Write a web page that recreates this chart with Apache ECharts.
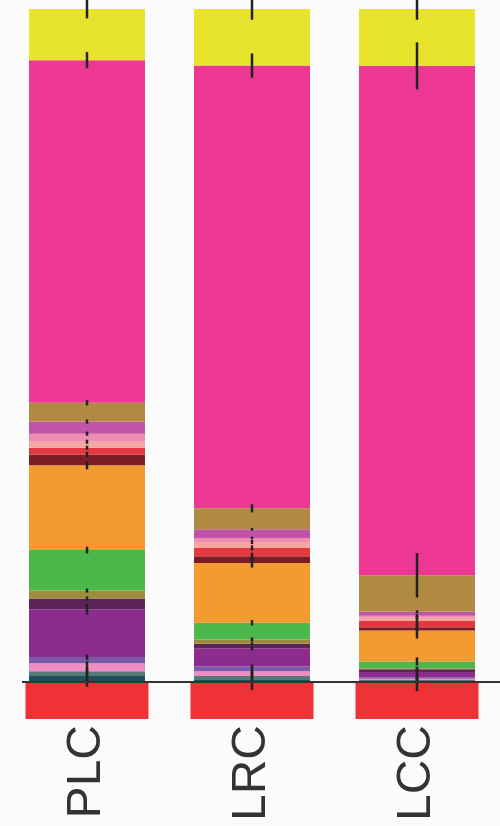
<!DOCTYPE html>
<html>
<head>
<meta charset="utf-8">
<script src="https://cdn.jsdelivr.net/npm/echarts@6/dist/echarts.min.js"></script>
<style>
html,body{margin:0;padding:0;background:#fbfbfb;}
#main{width:500px;height:826px;}
</style>
</head>
<body>
<div id="main"></div>
<script>
// ---- data (segments listed bottom to top, percent of total) ----
const categories = ['PLC', 'LRC', 'LCC'];
const taxa = ['Taxon 1','Taxon 2','Taxon 3','Taxon 4','Taxon 5','Taxon 6','Taxon 7','Taxon 8','Taxon 9',
              'Taxon 10','Taxon 11','Taxon 12','Taxon 13','Taxon 14','Taxon 15','Taxon 16','Taxon 17'];
const valuesPLC = [0.9, 0.7, 1.2, 0.9, 7.1, 1.6, 1.2, 6.0, 12.6, 1.6, 1.0, 0.9, 1.2, 1.8, 2.8, 50.9, 7.6];
const valuesLRC = [0.3, 0.6, 0.7, 0.7, 2.7, 0.7, 0.6, 2.5, 8.9, 1.0, 1.2, 0.9, 0.6, 1.3, 3.1, 65.8, 8.4];
const valuesLCC = [0.15, 0.15, 0.2, 0.2, 0.8, 0.4, 0.15, 1.0, 4.6, 0.5, 1.0, 0.4, 0.3, 0.6, 5.4, 75.7, 8.45];
// error (±) at the top of each segment
const errPLC = [1.6, 0.4, 0.3, 0.4, 0.8, 0.3, 0.3, 0.5, 0.6, 0.4, 0.3, 0.3, 0.3, 0.3, 0.4, 1.2, 1.4];
const errLRC = [1.5, 0.5, 0.6, 0.3, 0.3, 0.2, 0.3, 0.4, 0.7, 0.5, 0.4, 0.3, 0.2, 0.2, 0.6, 1.8, 1.6];
const errLCC = [1.5, 0.3, 0.3, 0.3, 0.4, 0.3, 0.2, 0.6, 1.2, 0.5, 0.6, 0.3, 0.3, 0.2, 3.3, 3.5, 1.6];
const groupBand = [1, 1, 1];

// ---- styles ----
const colors = ['#1d4f5c','#557a78','#ee8cc4','#7a5aa8','#8c2c8c','#5a2458','#9c8c3c','#4cb84c','#f39a30',
                '#7c1c24','#e23a40','#f4a6a0','#f08cb0','#c054a8','#b08a40','#ec3893','#e8e32c'];

const valuesByCat = [valuesPLC, valuesLRC, valuesLCC];
const errByCat = [errPLC, errLRC, errLCC];

const series = taxa.map((name, i) => ({
  name: name,
  type: 'bar',
  stack: 'total',
  xAxisIndex: 0,
  yAxisIndex: 0,
  barWidth: 116,
  itemStyle: { color: colors[i] },
  data: valuesByCat.map(v => v[i])
}));

const errData = [];
valuesByCat.forEach((vals, c) => {
  let cum = 0;
  vals.forEach((v, i) => {
    cum += v;
    if (errByCat[c][i] > 0) errData.push([c, cum, errByCat[c][i]]);
  });
});

series.push({
  name: 'Group',
  type: 'bar',
  xAxisIndex: 1,
  yAxisIndex: 1,
  barWidth: 123,
  itemStyle: { color: '#ee3236' },
  data: groupBand,
  z: 2
});

series.push({
  name: 'error',
  type: 'custom',
  xAxisIndex: 0,
  yAxisIndex: 0,
  clip: false,
  z: 10,
  renderItem: function (params, api) {
    const x = api.value(0), c = api.value(1), e = api.value(2);
    const p1 = api.coord([x, c + e]);
    const p2 = api.coord([x, c - e]);
    return {
      type: 'line',
      shape: { x1: p1[0], y1: p1[1], x2: p2[0], y2: p2[1] },
      style: { stroke: '#222', lineWidth: 2.5 }
    };
  },
  data: errData
});

const chart = echarts.init(document.getElementById('main'));
chart.setOption({
  backgroundColor: '#fbfbfb',
  animation: false,
  grid: [
    { left: 4.5, right: 0.5, top: 9, bottom: 144 },
    { left: 4.5, right: 0.5, top: 683, height: 36 }
  ],
  xAxis: [
    { type: 'category', gridIndex: 0, data: categories, axisLine: { show: false }, axisTick: { show: false }, axisLabel: { show: false } },
    { type: 'category', gridIndex: 1, data: categories, axisLine: { show: false }, axisTick: { show: false },
      axisLabel: { rotate: 90, margin: 6, fontSize: 48, color: '#333', fontFamily: 'Liberation Sans, Arial, sans-serif' } }
  ],
  yAxis: [
    { type: 'value', gridIndex: 0, min: 0, max: 100, show: false },
    { type: 'value', gridIndex: 1, min: 0, max: 1, show: false }
  ],
  series: series
});

const y0 = chart.convertToPixel({ yAxisIndex: 0 }, 0);
chart.setOption({
  graphic: [{
    type: 'line', z: 20,
    shape: { x1: 22, y1: y0, x2: 500, y2: y0 },
    style: { stroke: '#333', lineWidth: 2 }
  }]
});
</script>
</body>
</html>
